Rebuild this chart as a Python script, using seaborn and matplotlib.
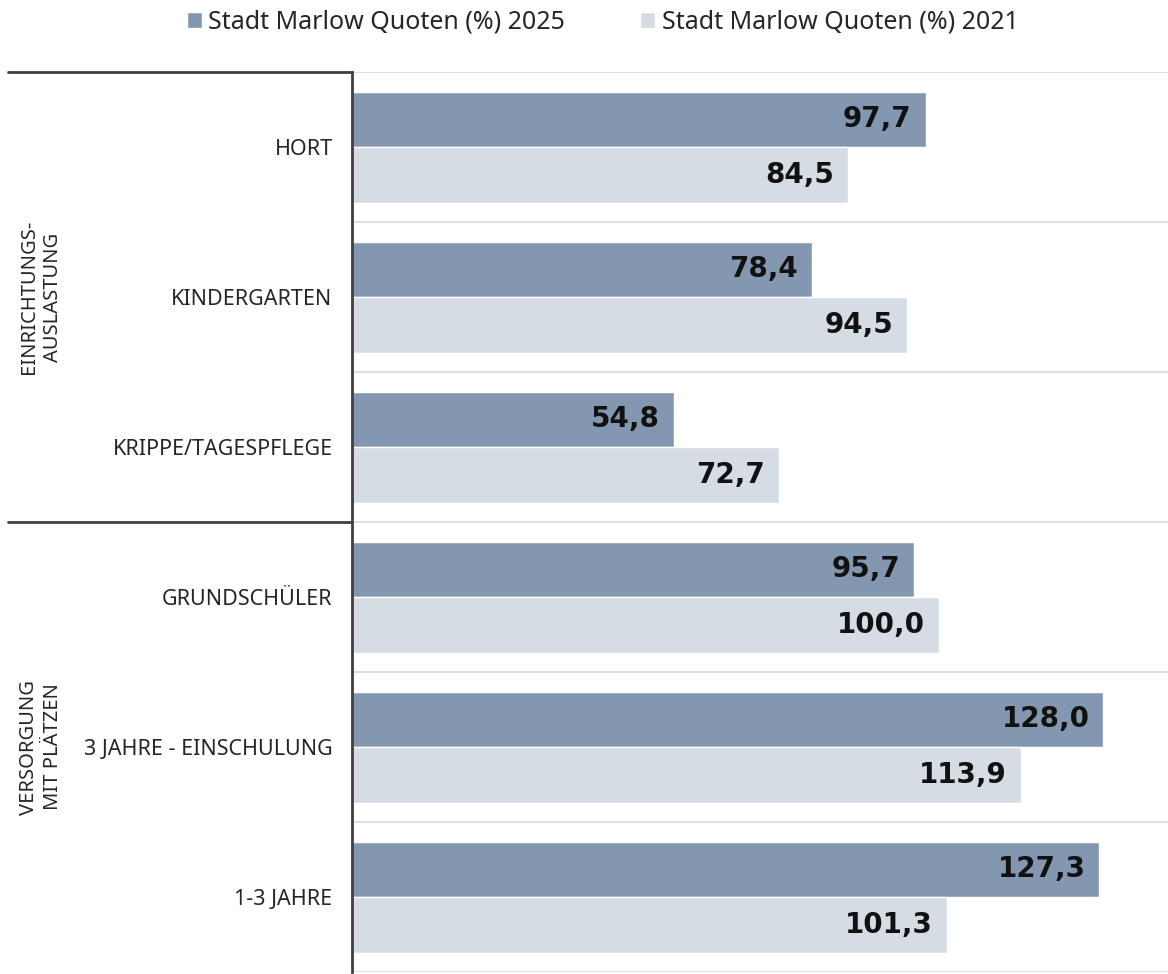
import numpy as np
import pandas as pd
import seaborn as sns
from matplotlib import pyplot as plt

categories = ["HORT", "KINDERGARTEN", "KRIPPE/TAGESPFLEGE",
              "GRUNDSCHÜLER", "3 JAHRE - EINSCHULUNG", "1-3 JAHRE"]
quote_2025 = [97.7, 78.4, 54.8, 95.7, 128.0, 127.3]
quote_2021 = [84.5, 94.5, 72.7, 100.0, 113.9, 101.3]
series_names = ["Stadt Marlow Quoten (%) 2025", "Stadt Marlow Quoten (%) 2021"]
groups = ["EINRICHTUNGS-\nAUSLASTUNG", "VERSORGUNG\nMIT PLÄTZEN"]

colors = ["#8497B0", "#D6DCE4"]

df = pd.DataFrame({
    "Kategorie": categories * 2,
    "Quote": quote_2025 + quote_2021,
    "Serie": [series_names[0]] * len(categories) + [series_names[1]] * len(categories),
})

sns.set_style("white")
plt.rcParams['font.family'] = ['Noto Sans', 'DejaVu Sans']

fig = plt.figure(figsize=(11.68, 9.74), dpi=100)
ax = fig.add_axes([0.3014, 0.002, 0.6986, 0.924])

sns.barplot(data=df, y="Kategorie", x="Quote", hue="Serie", orient="h",
            palette=colors, width=0.74, edgecolor="white", linewidth=1,
            saturation=1, ax=ax)

ax.set_xlim(0, 139)
ax.set_ylim(len(categories) - 0.5, -0.5)
ax.set_xlabel("")
ax.set_ylabel("")
ax.set_xticks([])

# light lines every half category
ax.set_yticks(np.arange(-0.5, len(categories), 0.5), minor=True)
ax.grid(True, which="minor", axis="y", color="#D9D9D9", linewidth=1.2)
ax.grid(False, which="major")
ax.set_axisbelow(True)
ax.tick_params(axis="y", which="both", length=0, labelsize=15.5, pad=14)

for s in ["top", "right", "bottom"]:
    ax.spines[s].set_visible(False)
ax.spines["left"].set_color("#404040")
ax.spines["left"].set_linewidth(2)

# value labels inside bar ends
for patch in ax.patches:
    w = patch.get_width()
    if w <= 0:
        continue
    yc = patch.get_y() + patch.get_height() / 2
    ax.annotate(f"{w:.1f}".replace(".", ","), xy=(w, yc), xytext=(-10, 0),
                textcoords="offset points", ha="right", va="center",
                fontsize=20, fontweight="bold", color="#111111",
                family="DejaVu Sans")

# group separators and labels on the left
trans = ax.get_yaxis_transform()
for yline in [-0.5, 2.5]:
    ax.plot([-0.4216, 0], [yline, yline], color="#404040", linewidth=2,
            transform=trans, clip_on=False)
ax.text(-0.381, 1.0, groups[0], transform=trans, rotation=90,
        ha="center", va="center", fontsize=14.5, linespacing=1.3)
ax.text(-0.381, 4.0, groups[1], transform=trans, rotation=90,
        ha="center", va="center", fontsize=14.5, linespacing=1.3)

handles, labels = ax.get_legend_handles_labels()
ax.get_legend().remove()
fig.legend(handles, labels, loc="center", bbox_to_anchor=(0.516, 0.977),
           ncol=2, frameon=False, fontsize=18, handlelength=0.6,
           handleheight=0.6, handletextpad=0.25, columnspacing=3.0)

fig.savefig("out.png", dpi=100)
plt.close(fig)
